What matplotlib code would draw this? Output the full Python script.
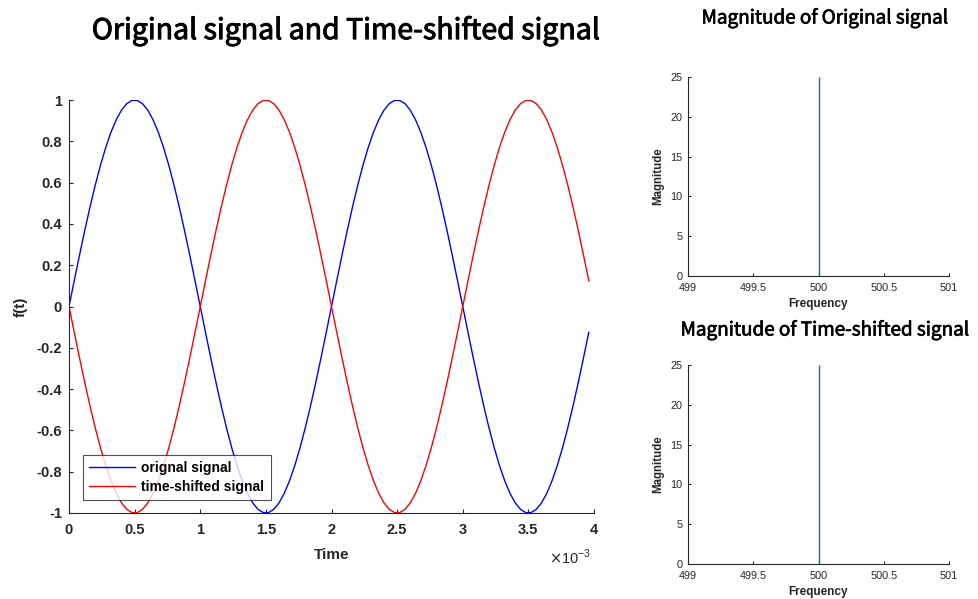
import numpy as np
import matplotlib
matplotlib.use("Agg")
import matplotlib.pyplot as plt
import matplotlib.patheffects as pe
from matplotlib.ticker import FuncFormatter, FixedLocator

# ---------------- data ----------------
time_ms = [0.00, 0.04, 0.08, 0.12, 0.16, 0.20, 0.24, 0.28, 0.32, 0.36,
           0.40, 0.44, 0.48, 0.52, 0.56, 0.60, 0.64, 0.68, 0.72, 0.76,
           0.80, 0.84, 0.88, 0.92, 0.96, 1.00, 1.04, 1.08, 1.12, 1.16,
           1.20, 1.24, 1.28, 1.32, 1.36, 1.40, 1.44, 1.48, 1.52, 1.56,
           1.60, 1.64, 1.68, 1.72, 1.76, 1.80, 1.84, 1.88, 1.92, 1.96,
           2.00, 2.04, 2.08, 2.12, 2.16, 2.20, 2.24, 2.28, 2.32, 2.36,
           2.40, 2.44, 2.48, 2.52, 2.56, 2.60, 2.64, 2.68, 2.72, 2.76,
           2.80, 2.84, 2.88, 2.92, 2.96, 3.00, 3.04, 3.08, 3.12, 3.16,
           3.20, 3.24, 3.28, 3.32, 3.36, 3.40, 3.44, 3.48, 3.52, 3.56,
           3.60, 3.64, 3.68, 3.72, 3.76, 3.80, 3.84, 3.88, 3.92, 3.96]

original = [0.0000, 0.1253, 0.2487, 0.3681, 0.4818, 0.5878, 0.6845, 0.7705, 0.8443, 0.9048,
            0.9511, 0.9823, 0.9980, 0.9980, 0.9823, 0.9511, 0.9048, 0.8443, 0.7705, 0.6845,
            0.5878, 0.4818, 0.3681, 0.2487, 0.1253, 0.0000, -0.1253, -0.2487, -0.3681, -0.4818,
            -0.5878, -0.6845, -0.7705, -0.8443, -0.9048, -0.9511, -0.9823, -0.9980, -0.9980, -0.9823,
            -0.9511, -0.9048, -0.8443, -0.7705, -0.6845, -0.5878, -0.4818, -0.3681, -0.2487, -0.1253,
            0.0000, 0.1253, 0.2487, 0.3681, 0.4818, 0.5878, 0.6845, 0.7705, 0.8443, 0.9048,
            0.9511, 0.9823, 0.9980, 0.9980, 0.9823, 0.9511, 0.9048, 0.8443, 0.7705, 0.6845,
            0.5878, 0.4818, 0.3681, 0.2487, 0.1253, 0.0000, -0.1253, -0.2487, -0.3681, -0.4818,
            -0.5878, -0.6845, -0.7705, -0.8443, -0.9048, -0.9511, -0.9823, -0.9980, -0.9980, -0.9823,
            -0.9511, -0.9048, -0.8443, -0.7705, -0.6845, -0.5878, -0.4818, -0.3681, -0.2487, -0.1253]

shifted = [0.0000, -0.1253, -0.2487, -0.3681, -0.4818, -0.5878, -0.6845, -0.7705, -0.8443, -0.9048,
           -0.9511, -0.9823, -0.9980, -0.9980, -0.9823, -0.9511, -0.9048, -0.8443, -0.7705, -0.6845,
           -0.5878, -0.4818, -0.3681, -0.2487, -0.1253, 0.0000, 0.1253, 0.2487, 0.3681, 0.4818,
           0.5878, 0.6845, 0.7705, 0.8443, 0.9048, 0.9511, 0.9823, 0.9980, 0.9980, 0.9823,
           0.9511, 0.9048, 0.8443, 0.7705, 0.6845, 0.5878, 0.4818, 0.3681, 0.2487, 0.1253,
           0.0000, -0.1253, -0.2487, -0.3681, -0.4818, -0.5878, -0.6845, -0.7705, -0.8443, -0.9048,
           -0.9511, -0.9823, -0.9980, -0.9980, -0.9823, -0.9511, -0.9048, -0.8443, -0.7705, -0.6845,
           -0.5878, -0.4818, -0.3681, -0.2487, -0.1253, 0.0000, 0.1253, 0.2487, 0.3681, 0.4818,
           0.5878, 0.6845, 0.7705, 0.8443, 0.9048, 0.9511, 0.9823, 0.9980, 0.9980, 0.9823,
           0.9511, 0.9048, 0.8443, 0.7705, 0.6845, 0.5878, 0.4818, 0.3681, 0.2487, 0.1253]

spec_freq = [500]
spec_mag_original = [25]
spec_mag_shifted = [25]

main_xticks = [0, 0.5e-3, 1e-3, 1.5e-3, 2e-3, 2.5e-3, 3e-3, 3.5e-3, 4e-3]
main_yticks = [-1, -0.8, -0.6, -0.4, -0.2, 0, 0.2, 0.4, 0.6, 0.8, 1]
spec_xticks = [499, 499.5, 500, 500.5, 501]
spec_xticklabels = ["499", "499.5", "500", "500.5", "501"]
spec_yticks = [0, 5, 10, 15, 20, 25]

# ---------------- figure ----------------
W, H = 979, 599
fig = plt.figure(figsize=(W / 100, H / 100), dpi=100)
AX_COLOR = "#262626"
SANS = ["Liberation Sans", "DejaVu Sans"]
TITLE_FONT = ["Noto Sans CJK SC", "DejaVu Sans"]
THICK = [pe.withStroke(linewidth=0.7, foreground="black")]


def px_axes(x0, y0, x1, y1):
    return fig.add_axes([x0 / W, 1 - y1 / H, (x1 - x0) / W, (y1 - y0) / H])


def style(ax, size, weight):
    for s in ("top", "right"):
        ax.spines[s].set_visible(False)
    for s in ("left", "bottom"):
        ax.spines[s].set_color(AX_COLOR)
        ax.spines[s].set_linewidth(0.8)
    ax.tick_params(direction="in", length=3, width=0.8, color=AX_COLOR,
                   labelcolor=AX_COLOR, labelsize=size, pad=3)
    for lab in ax.get_xticklabels() + ax.get_yticklabels():
        lab.set_fontfamily(SANS)
        lab.set_fontweight(weight)


t = np.array(time_ms) * 1e-3

# main axes
ax = px_axes(69, 100, 594, 513)
ax.plot(t, original, color="#0000FF", lw=1.0, label="orignal signal")
ax.plot(t, shifted, color="#FF0000", lw=1.0, label="time-shifted signal")
ax.set_xlim(0, 4e-3)
ax.set_ylim(-1, 1)
ax.xaxis.set_major_locator(FixedLocator(main_xticks))
ax.yaxis.set_major_locator(FixedLocator(main_yticks))
ax.xaxis.set_major_formatter(FuncFormatter(lambda v, p: "%g" % round(v * 1e3, 6)))
ax.yaxis.set_major_formatter(FuncFormatter(lambda v, p: "%g" % round(v, 6)))
style(ax, 10.5, "bold")
ax.tick_params(axis="x", pad=7)
ax.tick_params(axis="y", pad=5)
ax.set_xlabel("Time", fontsize=11, fontweight="bold", family=SANS, color=AX_COLOR, labelpad=8)
ax.set_ylabel("f(t)", fontsize=11, fontweight="bold", family=SANS, color=AX_COLOR, labelpad=6)
fig.text(549 / W, 1 - 557 / H, r"$\times$10$^{\mathregular{-3}}$", fontsize=10.5,
         family=SANS, color=AX_COLOR, ha="left", va="center")
leg = ax.legend(loc="lower left", bbox_to_anchor=((83 - 69) / 525, (513 - 500) / 413),
                borderaxespad=0, fancybox=False, frameon=True, handlelength=3.3,
                handletextpad=0.45, borderpad=0.45, labelspacing=0.35,
                prop={"family": SANS, "weight": "bold", "size": 10})
leg.get_frame().set_edgecolor(AX_COLOR)
leg.get_frame().set_linewidth(0.8)
fig.text(346 / W, 1 - 31 / H, "Original signal and Time-shifted signal", fontsize=20.5,
         family=TITLE_FONT, weight="normal", ha="center", va="center", color="black",
         path_effects=THICK)

# spectrum axes
for (y0, y1, mag, title, ty) in [
        (77, 276, spec_mag_original, "Magnitude of Original signal", 18),
        (365, 564, spec_mag_shifted, "Magnitude of Time-shifted signal", 330)]:
    a = px_axes(688, y0, 949, y1)
    a.vlines(spec_freq, 0, mag, color="#0072BD", lw=1.0)
    a.set_xlim(499, 501)
    a.set_ylim(0, 25)
    a.xaxis.set_major_locator(FixedLocator(spec_xticks))
    a.set_xticklabels(spec_xticklabels)
    a.yaxis.set_major_locator(FixedLocator(spec_yticks))
    style(a, 7.8, "normal")
    a.tick_params(length=2)
    a.tick_params(axis="x", pad=5)
    a.tick_params(axis="y", pad=4)
    a.set_xlabel("Frequency", fontsize=8.5, fontweight="bold", family=SANS, color=AX_COLOR, labelpad=4)
    a.set_ylabel("Magnitude", fontsize=8.3, fontweight="bold", family=SANS, color=AX_COLOR, labelpad=4)
    fig.text(825 / W, 1 - ty / H, title, fontsize=13.6, family=TITLE_FONT,
             weight="normal", ha="center", va="center", color="black",
             path_effects=[pe.withStroke(linewidth=0.5, foreground="black")])

fig.savefig("out.png", dpi=100, facecolor="white")
